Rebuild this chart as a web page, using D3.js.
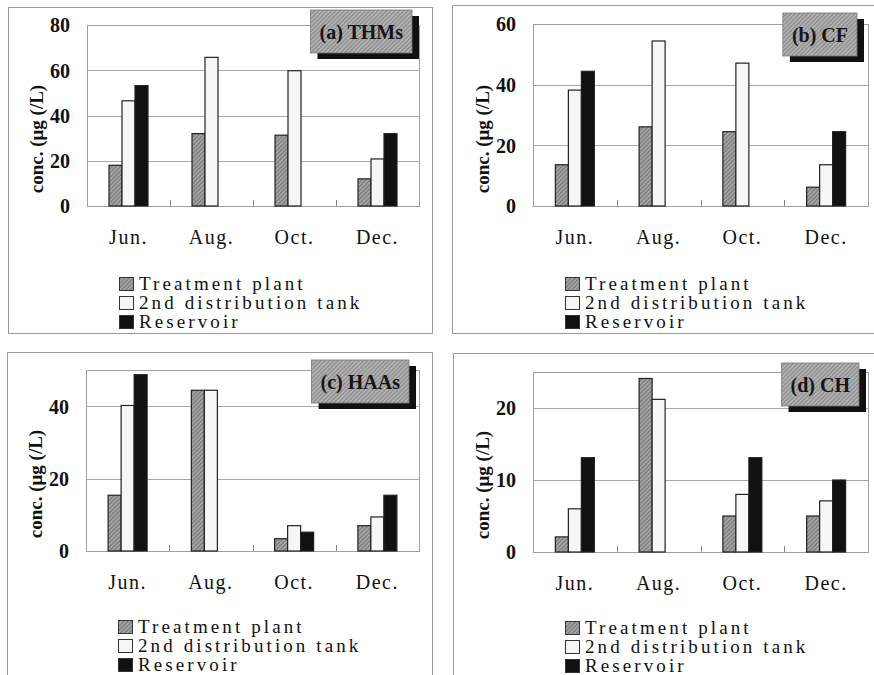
<!DOCTYPE html>
<html>
<head>
<meta charset="utf-8">
<script src="https://cdn.jsdelivr.net/npm/d3@7"></script>
<style>
  body { margin: 0; background: #fff; }
  svg { display: block; font-family: "Liberation Serif", "Times New Roman", serif; }
</style>
</head>
<body>
<svg id="chart" width="874" height="675"></svg>
<script>
// Sampling months and sampling points
const months = ["Jun.", "Aug.", "Oct.", "Dec."];
const seriesNames = ["Treatment plant", "2nd distribution tank", "Reservoir"];

// (a) THMs, µg/L
const thmsPlant = [18, 32, 31.3, 12];
const thmsTank = [46.5, 65.7, 59.8, 20.8];
const thmsReservoir = [53.2, null, null, 32];

// (b) CF, µg/L
const cfPlant = [13.6, 26.1, 24.5, 6.2];
const cfTank = [38.2, 54.4, 47.1, 13.6];
const cfReservoir = [44.4, null, null, 24.5];

// (c) HAAs, µg/L
const haasPlant = [15.4, 44.4, 3.4, 7.0];
const haasTank = [40.2, 44.4, 7.0, 9.4];
const haasReservoir = [48.7, null, 5.2, 15.4];

// (d) CH, µg/L
const chPlant = [2.1, 24.1, 5.0, 5.0];
const chTank = [6.0, 21.2, 8.0, 7.1];
const chReservoir = [13.1, null, 13.1, 10.0];

// Y-axis ticks and maxima
const thmsTicks = [0, 20, 40, 60, 80];
const cfTicks = [0, 20, 40, 60];
const haasTicks = [0, 20, 40];
const chTicks = [0, 10, 20];
const yMaxima = [80, 60, 50, 25];

const panelTitles = ["(a) THMs", "(b) CF", "(c) HAAs", "(d) CH"];
const yTitle = "conc. (\u03bcg (/L)";

// Layout of the four panels (plot box, title box and legend placement)
const panels = [
  { title: panelTitles[0], series: [thmsPlant, thmsTank, thmsReservoir], ticks: thmsTicks, max: yMaxima[0],
    left: 87, right: 419, top: 25, bottom: 206, boxRight: 412, boxTop: 10, legendDy: 71 },
  { title: panelTitles[1], series: [cfPlant, cfTank, cfReservoir], ticks: cfTicks, max: yMaxima[1],
    left: 533, right: 868, top: 24, bottom: 206, boxRight: 857, boxTop: 13, legendDy: 71 },
  { title: panelTitles[2], series: [haasPlant, haasTank, haasReservoir], ticks: haasTicks, max: yMaxima[2],
    left: 86, right: 419, top: 370, bottom: 551, boxRight: 409, boxTop: 360, legendDy: 69 },
  { title: panelTitles[3], series: [chPlant, chTank, chReservoir], ticks: chTicks, max: yMaxima[3],
    left: 533, right: 868, top: 372, bottom: 552, boxRight: 859, boxTop: 363, legendDy: 69 }
];

const svg = d3.select("#chart");
const defs = svg.append("defs");

function hatch(id, base, line) {
  const p = defs.append("pattern")
    .attr("id", id).attr("width", 3).attr("height", 3)
    .attr("patternUnits", "userSpaceOnUse")
    .attr("patternTransform", "rotate(45)");
  p.append("rect").attr("width", 3).attr("height", 3).attr("fill", base);
  p.append("line").attr("x1", 0.5).attr("y1", 0).attr("x2", 0.5).attr("y2", 3)
    .attr("stroke", line).attr("stroke-width", 1);
}
hatch("barHatch", "#858585", "#b0b0b0");
hatch("titleHatch", "#959595", "#bdbdbd");

const seriesFill = ["url(#barHatch)", "#f6f6f6", "#111"];

// Outer panel frames
const frame = svg.append("g").attr("fill", "none").attr("stroke", "#9a9a9a").attr("stroke-width", 1);
frame.append("rect").attr("x", 8.5).attr("y", 7.5).attr("width", 424).attr("height", 326);
frame.append("path").attr("d", "M874,5.5H452.5V333.5H874");
frame.append("path").attr("d", "M7.5,675V352.5H432.5V675");
frame.append("path").attr("d", "M874,353.5H453.5V675");

panels.forEach(p => {
  const g = svg.append("g");

  const x0 = d3.scaleBand().domain(months).range([p.left, p.right]).paddingInner(0).paddingOuter(0);
  const groupW = 39;
  const x1 = d3.scaleBand().domain(d3.range(3)).range([0, groupW]);
  const y = d3.scaleLinear().domain([0, p.max]).range([p.bottom, p.top]);

  // gridlines
  g.append("g").selectAll("line").data(p.ticks.filter(t => t > 0 && t < p.max)).join("line")
    .attr("x1", p.left).attr("x2", p.right)
    .attr("y1", d => Math.round(y(d)) + 0.5).attr("y2", d => Math.round(y(d)) + 0.5)
    .attr("stroke", "#a8a8a8").attr("stroke-width", 1);

  // plot frame
  g.append("rect")
    .attr("x", p.left + 0.5).attr("y", Math.round(p.top) + 0.5)
    .attr("width", p.right - p.left).attr("height", p.bottom - Math.round(p.top))
    .attr("fill", "none").attr("stroke", "#a0a0a0").attr("stroke-width", 1);

  // category boundary ticks
  g.append("g").selectAll("line").data(months.slice(1)).join("line")
    .attr("x1", d => Math.round(x0(d)) + 0.5).attr("x2", d => Math.round(x0(d)) + 0.5)
    .attr("y1", p.bottom - 6).attr("y2", p.bottom)
    .attr("stroke", "#888").attr("stroke-width", 1);

  // bars
  const rows = [];
  months.forEach((m, i) => p.series.forEach((s, k) => {
    if (s[i] != null) rows.push({ m, k, v: s[i] });
  }));
  g.append("g").selectAll("rect").data(rows).join("rect")
    .attr("x", d => x0(d.m) + (x0.bandwidth() - groupW) / 2 + x1(d.k))
    .attr("y", d => y(d.v))
    .attr("width", x1.bandwidth())
    .attr("height", d => y(0) - y(d.v))
    .attr("fill", d => seriesFill[d.k])
    .attr("stroke", "#222").attr("stroke-width", 1.2);

  // y-axis tick labels
  const yAxis = d3.axisLeft(y).tickValues(p.ticks).tickSize(0).tickPadding(17);
  const ya = g.append("g").attr("transform", `translate(${p.left},0)`).call(yAxis);
  ya.select(".domain").remove();
  ya.selectAll("text")
    .attr("font-family", "Liberation Serif, serif").attr("font-size", 20)
    .attr("font-weight", "bold").attr("fill", "#111").attr("dy", "0.34em");

  // x-axis category labels
  const xAxis = d3.axisBottom(x0).tickSize(0).tickPadding(0);
  const xa = g.append("g").attr("transform", `translate(0,${p.bottom})`).call(xAxis);
  xa.select(".domain").remove();
  xa.selectAll("text")
    .attr("font-family", "Liberation Serif, serif").attr("font-size", 20)
    .attr("fill", "#111").attr("letter-spacing", "1.5px")
    .attr("dy", null).attr("y", 38);

  // y-axis title
  g.append("text")
    .attr("transform", `translate(${p.left - 51},${p.bottom - 67}) rotate(-90)`)
    .attr("text-anchor", "middle").attr("dy", "0.35em")
    .attr("font-size", 19).attr("font-weight", "bold").attr("fill", "#111")
    .text(yTitle);

  // panel title box with drop shadow
  const tb = g.append("g");
  const tt = tb.append("text")
    .attr("font-size", 20).attr("font-weight", "bold").attr("fill", "#151515")
    .attr("text-anchor", "middle").text(p.title);
  const w = tt.node().getComputedTextLength() + 18;
  const h = 43;
  const bx = p.boxRight - w, by = p.boxTop;
  tb.insert("rect", "text").attr("x", bx + 7).attr("y", by + 6).attr("width", w).attr("height", h).attr("fill", "#111");
  tb.insert("rect", "text").attr("x", bx).attr("y", by).attr("width", w).attr("height", h)
    .attr("fill", "url(#titleHatch)").attr("stroke", "#777").attr("stroke-width", 0.8);
  tt.attr("x", bx + w / 2).attr("y", by + h / 2).attr("dy", "0.35em");

  // legend
  const lg = g.append("g").attr("transform", `translate(${p.left + 32},${p.bottom + p.legendDy})`);
  seriesNames.forEach((name, k) => {
    lg.append("rect").attr("x", 0.5).attr("y", k * 19 + 0.5).attr("width", 14).attr("height", 13)
      .attr("fill", seriesFill[k]).attr("stroke", "#333").attr("stroke-width", 1);
    lg.append("text").attr("x", 20).attr("y", k * 19 + 12.5)
      .attr("font-size", 19).attr("fill", "#111").attr("letter-spacing", "3.1px")
      .text(name);
  });
});
</script>
</body>
</html>
